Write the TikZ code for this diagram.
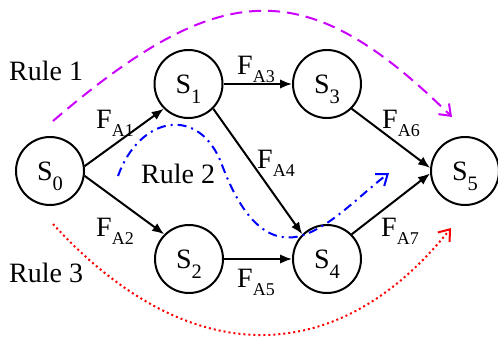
\documentclass[tikz,border=0pt]{standalone}
\usepackage{fontspec}
\setmainfont{Liberation Serif}
\usetikzlibrary{arrows.meta}
\definecolor{rulemag}{RGB}{204,0,255}
\definecolor{ruleblue}{RGB}{0,0,255}
\definecolor{rulered}{RGB}{255,0,0}
\newcommand{\Sn}[1]{S\smash{\raisebox{-10pt}{\fontsize{20.5}{20.5}\selectfont #1}}}
\newcommand{\Fl}[1]{F\smash{\raisebox{-8pt}{\fontsize{18}{18}\selectfont #1}}}
\tikzset{
  state/.style={circle,draw,line width=2pt,minimum size=68pt,inner sep=0pt,font=\fontsize{28}{28}\selectfont},
  flow/.style={line width=2pt,-{Latex[length=12pt,width=9.5pt]}},
  lbl/.style={inner sep=0pt,anchor=base west,font=\fontsize{28}{28}\selectfont},
  rtip/.style={-{Straight Barb[length=10pt,width=15pt,line width=2pt]}}
}
\begin{document}
\begin{tikzpicture}[x=1pt,y=-1pt]
\useasboundingbox (0,0) rectangle (498,338);
\node[state] (s0) at (50,171) {\Sn{0}};
\node[state] (s1) at (188.5,84) {\Sn{1}};
\node[state] (s3) at (327,84) {\Sn{3}};
\node[state] (s5) at (465,171) {\Sn{5}};
\node[state] (s2) at (189,259) {\Sn{2}};
\node[state] (s4) at (327,259) {\Sn{4}};
\draw[flow] (s0.8) -- (s1.south west);
\draw[flow] (s0.-8) -- (s2.north west);
\draw[flow] (s1) -- (s3);
\draw[flow] (s1.south east) -- (s4.north west);
\draw[flow] (s2) -- (s4);
\draw[flow] (s3.south east) -- (s5.175);
\draw[flow] (s4.north east) -- (s5.184);
\node[lbl] (fa1) at (96,128) {\Fl{A1}};
\node[lbl] (fa3) at (237,74) {\Fl{A3}};
\node[lbl] (fa6) at (382,128) {\Fl{A6}};
\node[lbl] (fa4) at (257,168) {\Fl{A4}};
\node[lbl] (fa2) at (96,236) {\Fl{A2}};
\node[lbl] (fa5) at (237,287) {\Fl{A5}};
\node[lbl] (fa7) at (381,236) {\Fl{A7}};
\node[lbl] (r1) at (9,80) {Rule 1};
\node[lbl] (r2) at (141,183) {Rule 2};
\node[lbl] (r3) at (9,282) {Rule 3};
\coordinate (m0) at (53,121);
\coordinate (m1) at (452,117);
\draw[rulemag,line width=2pt,dash pattern=on 12pt off 7pt,rtip] (m0) .. controls (223,-25) and (308,-25) .. (m1);
\coordinate (b0) at (118,176);
\coordinate (b1) at (222,165);
\coordinate (b2) at (300,236);
\coordinate (b3) at (389,173);
\draw[ruleblue,line width=2pt,dash pattern=on 9pt off 5pt on 2pt off 5pt,rtip] (b0) .. controls (140,115) and (200,105) .. (b1) .. controls (240,213) and (265,245) .. (b2) .. controls (330,228) and (360,195) .. (b3);
\coordinate (d0) at (53,224);
\coordinate (d1) at (451,228);
\draw[rulered,line width=2pt,dash pattern=on 2pt off 3pt,rtip] (d0) .. controls (187,371) and (337,371) .. (d1);
\end{tikzpicture}
\end{document}
